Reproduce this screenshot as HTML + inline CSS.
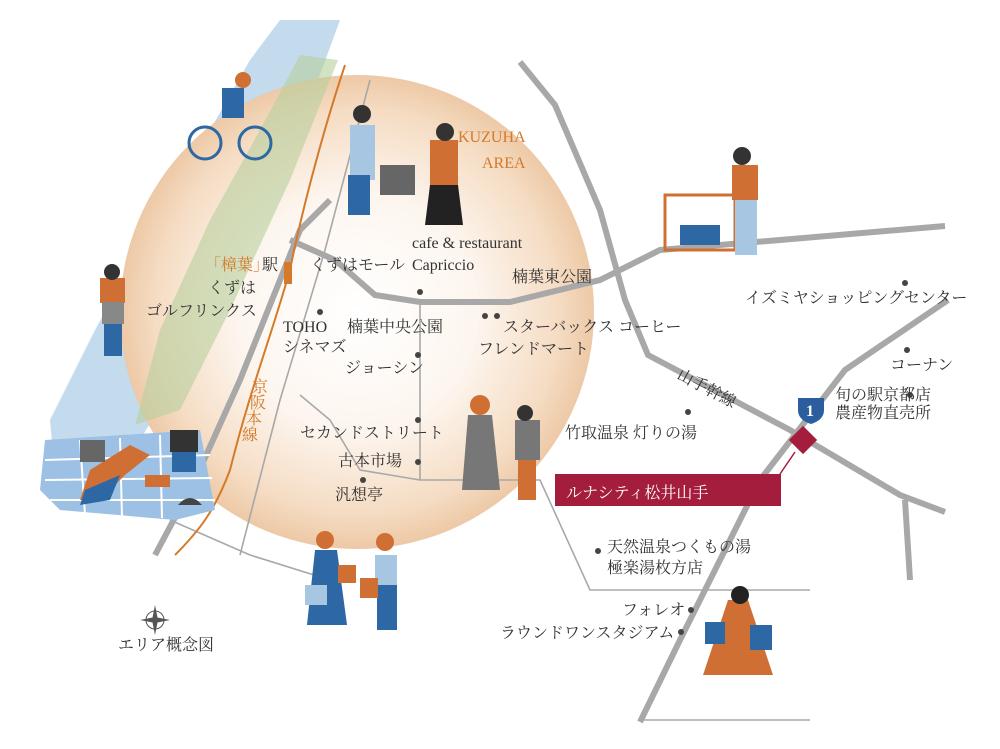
<!DOCTYPE html>
<html><head><meta charset="utf-8"><style>
html,body{margin:0;padding:0;background:#fff;}
svg{display:block;}
text{font-family:"Liberation Serif","Noto Serif CJK SC",serif;fill:#333;font-size:16px;}
</style></head><body>
<svg width="1000" height="749" viewBox="0 0 1000 749" xmlns="http://www.w3.org/2000/svg">
<defs>
<radialGradient id="g" cx="0.5" cy="0.5" r="0.5">
<stop offset="0" stop-color="#fff"/>
<stop offset="0.5" stop-color="#fdf6ef"/>
<stop offset="0.85" stop-color="#f5dcc3"/>
<stop offset="1" stop-color="#edc9a6"/>
</radialGradient>
</defs>
<!-- river -->
<polygon points="280,20 340,20 318,80 270,200 215,300 170,390 140,440 95,445 55,475 50,420 95,330 150,230 210,130 250,60" fill="#c4dbee"/>
<!-- circle -->
<circle cx="357" cy="312" r="237" fill="url(#g)"/>
<!-- green band -->
<polygon points="300,55 338,60 290,180 230,310 180,410 135,425 160,330 210,220 260,130" fill="#b8cf9c" opacity="0.6"/>
<!-- roads thick -->
<g fill="none" stroke="#a8a8a8" stroke-width="6" stroke-linecap="butt">
<path d="M520,62 L555,105 L600,210 L625,300 L648,355 L790,430 L900,495 L945,512"/>
<path d="M640,722 L680,640 L760,480 L845,370 L948,300"/>
<path d="M290,240 L335,260 L375,295 L420,302 L510,302 L600,280 L660,250 L780,240 L945,226"/>
<path d="M155,555 L195,480 L240,380 L300,230 L330,200"/>
<path d="M905,500 L910,580"/>
</g>
<!-- thin roads -->
<g fill="none" stroke="#a8a8a8" stroke-width="1.6">
<path d="M370,80 L325,250 L280,400 L240,555"/>
<path d="M170,520 L250,555 L330,580"/>
<path d="M420,305 L420,480 L540,480 L590,590 L810,590"/>
<path d="M300,395 L330,420 L360,470 L420,480"/>
<path d="M640,720 L810,720"/>
</g>
<!-- rail -->
<path d="M345,65 C320,140 300,220 290,270 C270,340 250,390 230,470 C215,510 200,530 175,555" fill="none" stroke="#d47a2a" stroke-width="2"/>
<rect x="284" y="262" width="8" height="22" fill="#d47a2a"/>
<!-- dots -->
<g fill="#444">
<circle cx="420" cy="292" r="3"/><circle cx="320" cy="312" r="3"/><circle cx="418" cy="355" r="3"/>
<circle cx="418" cy="420" r="3"/><circle cx="418" cy="462" r="3"/><circle cx="363" cy="480" r="3"/>
<circle cx="485" cy="316" r="3"/><circle cx="497" cy="316" r="3"/><circle cx="688" cy="412" r="3"/>
<circle cx="905" cy="283" r="3"/><circle cx="907" cy="350" r="3"/><circle cx="910" cy="395" r="3"/>
<circle cx="598" cy="551" r="3"/><circle cx="691" cy="610" r="3"/><circle cx="681" cy="632" r="3"/>
</g>
<!-- labels -->
<text x="458" y="142" font-size="21" style="fill:#d47a2a">KUZUHA</text>
<text x="482" y="168" font-size="21" style="fill:#d47a2a">AREA</text>
<text x="412" y="248">cafe &amp; restaurant</text>
<text x="412" y="270">Capriccio</text>
<text x="310" y="270">くずはモール</text>
<text x="512" y="282">楠葉東公園</text>
<text x="205" y="270" style="fill:#d47a2a">「樟葉」</text><text x="262" y="270">駅</text>
<text x="208" y="293">くずは</text>
<text x="146" y="316">ゴルフリンクス</text>
<text x="283" y="332">TOHO</text>
<text x="283" y="352">シネマズ</text>
<text x="347" y="332">楠葉中央公園</text>
<text x="503" y="332">スターバックス コーヒー</text>
<text x="478" y="354">フレンドマート</text>
<text x="345" y="373">ジョーシン</text>
<text x="300" y="438">セカンドストリート</text>
<text x="338" y="466">古本市場</text>
<text x="335" y="500">汎想亭</text>
<text x="565" y="438">竹取温泉 灯りの湯</text>
<text x="745" y="303">イズミヤショッピングセンター</text>
<text x="890" y="370">コーナン</text>
<text x="835" y="400">旬の駅京都店</text>
<text x="835" y="418">農産物直売所</text>
<text x="607" y="552">天然温泉つくもの湯</text>
<text x="607" y="573">極楽湯枚方店</text>
<text x="622" y="615">フォレオ</text>
<text x="500" y="638">ラウンドワンスタジアム</text>
<text x="118" y="650" font-size="11">エリア概念図</text>
<text transform="translate(676,378) rotate(28)">山手幹線</text>
<g font-size="13">
<text x="252" y="392" font-size="13" style="fill:#d47a2a">京</text><text x="250" y="408" font-size="13" style="fill:#d47a2a">阪</text><text x="246" y="424" font-size="13" style="fill:#d47a2a">本</text><text x="242" y="440" font-size="13" style="fill:#d47a2a">線</text>
</g>
<!-- destination -->
<rect x="555" y="474" width="226" height="32" fill="#a51d3c"/>
<text x="566" y="498" font-size="20" style="fill:#fff">ルナシティ松井山手</text>
<rect x="793" y="430" width="20" height="20" fill="#a51d3c" transform="rotate(45 803 440)"/>
<line x1="795" y1="452" x2="780" y2="474" stroke="#a51d3c" stroke-width="1.5"/>
<path d="M798,398 h26 v12 q0,10 -13,14 q-13,-4 -13,-14z" fill="#2b5e9e"/>
<text x="806" y="416" font-size="13" style="fill:#fff" font-weight="bold">1</text>
<!-- compass -->
<circle cx="155" cy="620" r="9" fill="none" stroke="#555"/>
<path d="M155,605 L158,620 L155,635 L152,620Z M140,620 L155,617 L170,620 L155,623Z" fill="#555"/>
<!-- picnic -->
<polygon points="45,440 200,430 215,510 175,520 60,510 40,490" fill="#9cc1e5"/>
<g stroke="#fff" stroke-width="2"><line x1="45" y1="460" x2="210" y2="455"/><line x1="45" y1="480" x2="212" y2="478"/><line x1="50" y1="500" x2="215" y2="500"/><line x1="80" y1="440" x2="85" y2="515"/><line x1="120" y1="438" x2="122" y2="518"/><line x1="160" y1="435" x2="162" y2="518"/></g>
<path d="M90,470 L130,445 L150,455 L125,475 L100,500 L80,500Z" fill="#d06f33"/>
<path d="M85,490 L120,475 L110,500 L80,505Z" fill="#2d68a5"/>
<rect x="170" y="430" width="28" height="22" fill="#333"/><rect x="172" y="452" width="24" height="20" fill="#2d68a5"/>
<rect x="80" y="440" width="25" height="22" fill="#666"/>
<rect x="145" y="475" width="25" height="12" fill="#d06f33"/>
<path d="M178,505 q12,-14 24,0z" fill="#444"/>
<!-- golfer -->
<rect x="100" y="278" width="25" height="25" fill="#d06f33"/><rect x="102" y="302" width="22" height="22" fill="#888"/><rect x="104" y="324" width="18" height="32" fill="#2d68a5"/><circle cx="112" cy="272" r="8" fill="#333"/>
<!-- cyclist -->
<circle cx="205" cy="143" r="16" fill="none" stroke="#2d68a5" stroke-width="3"/><circle cx="255" cy="143" r="16" fill="none" stroke="#2d68a5" stroke-width="3"/>
<rect x="222" y="88" width="22" height="30" fill="#2d68a5"/><circle cx="243" cy="80" r="8" fill="#d06f33"/>
<!-- family top -->
<rect x="350" y="125" width="25" height="55" fill="#a6c6e2"/><rect x="348" y="175" width="22" height="40" fill="#2d68a5"/><circle cx="362" cy="114" r="9" fill="#333"/>
<rect x="380" y="165" width="35" height="30" fill="#666"/>
<rect x="430" y="140" width="28" height="45" fill="#d06f33"/><path d="M430,185 h28 l5,40 h-38z" fill="#222"/><circle cx="445" cy="132" r="9" fill="#333"/>
<!-- cart man -->
<rect x="665" y="195" width="70" height="55" fill="none" stroke="#d06f33" stroke-width="3"/><rect x="680" y="225" width="40" height="20" fill="#2d68a5"/>
<rect x="732" y="165" width="26" height="35" fill="#d06f33"/><rect x="735" y="200" width="22" height="55" fill="#a6c6e2"/><circle cx="742" cy="156" r="9" fill="#333"/>
<!-- two women center -->
<path d="M468,415 h24 l8,75 h-38z" fill="#777"/><circle cx="480" cy="405" r="10" fill="#d06f33"/>
<rect x="515" y="420" width="25" height="40" fill="#777"/><rect x="518" y="460" width="18" height="40" fill="#d06f33"/><circle cx="525" cy="413" r="8" fill="#333"/>
<!-- shoppers bottom -->
<path d="M315,550 h22 l10,75 h-40z" fill="#2d68a5"/><circle cx="325" cy="540" r="9" fill="#d06f33"/><rect x="305" y="585" width="22" height="20" fill="#a6c6e2"/><rect x="338" y="565" width="18" height="18" fill="#d06f33"/>
<rect x="375" y="555" width="22" height="30" fill="#a6c6e2"/><rect x="377" y="585" width="20" height="45" fill="#2d68a5"/><circle cx="385" cy="542" r="9" fill="#d06f33"/><rect x="360" y="578" width="18" height="20" fill="#d06f33"/>
<!-- shopper right -->
<path d="M728,600 h20 l25,75 h-70z" fill="#d06f33"/><circle cx="740" cy="595" r="9" fill="#222"/>
<rect x="705" y="622" width="20" height="22" fill="#2d68a5"/><rect x="750" y="625" width="22" height="25" fill="#2d68a5"/>
</svg>
</body></html>
